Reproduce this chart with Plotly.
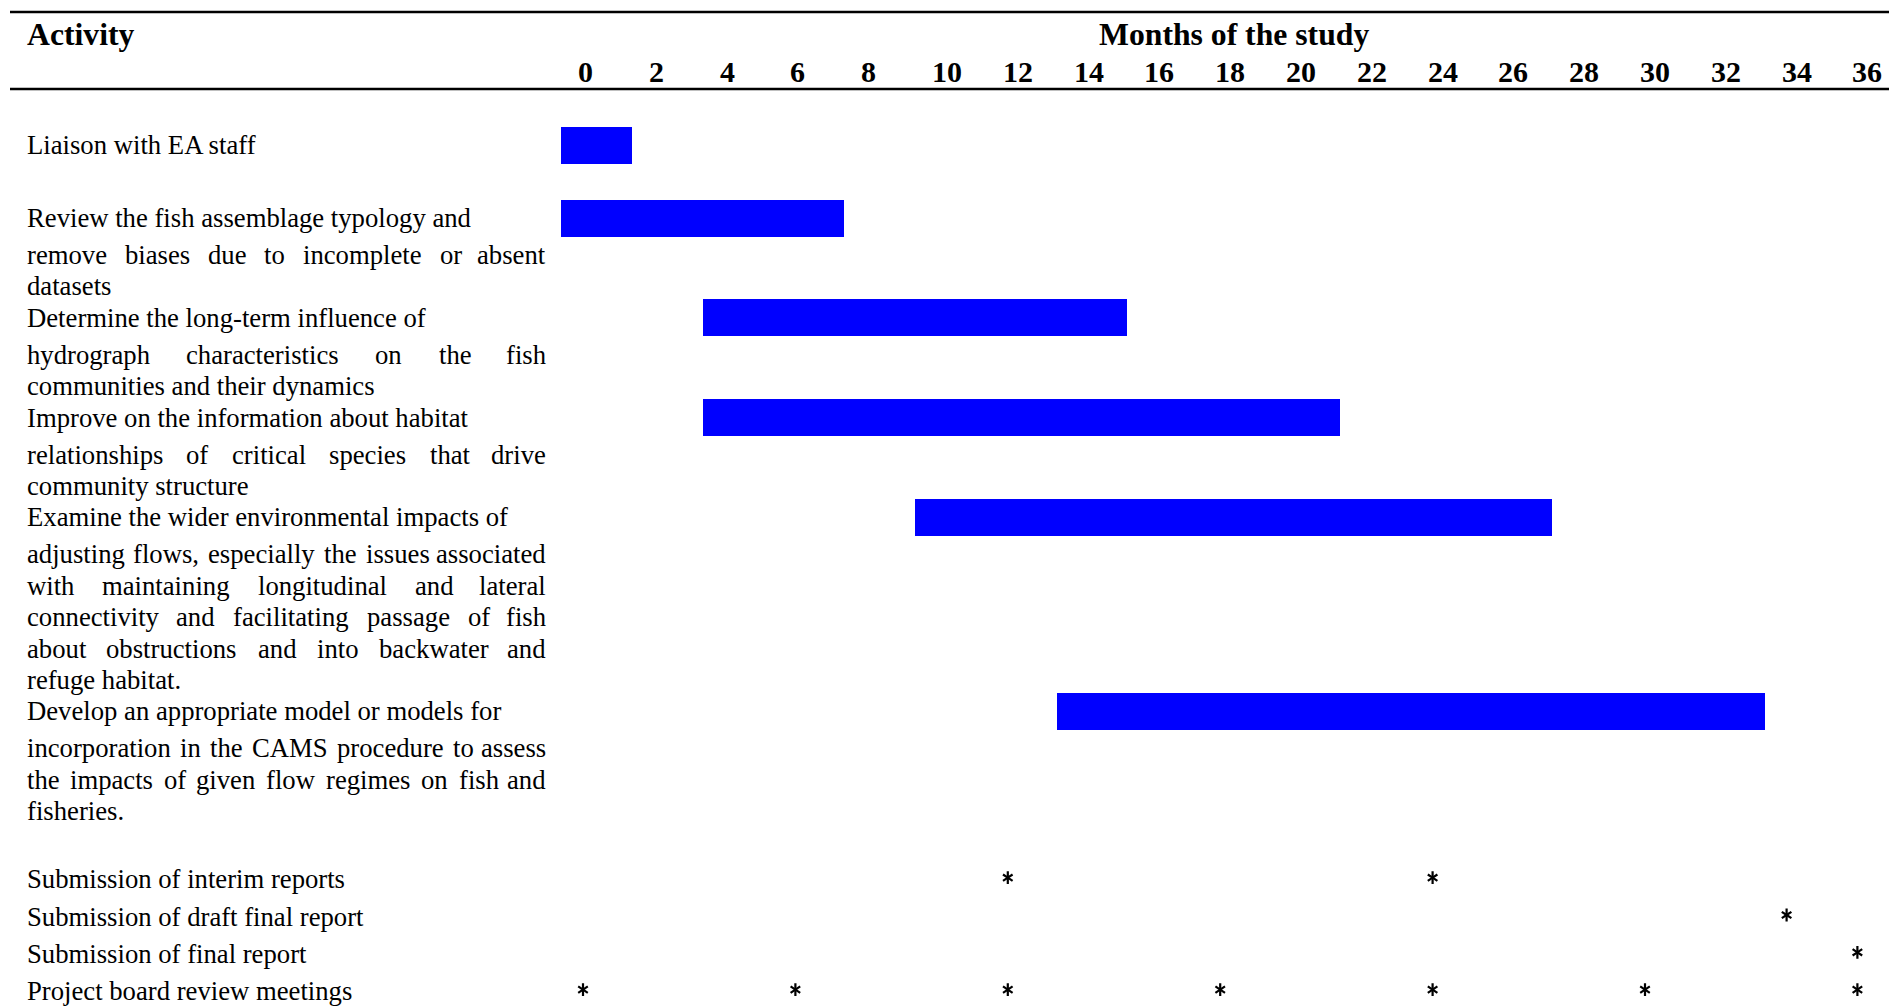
import plotly.graph_objects as go

# ---------------- data ----------------
ACTIVITY_LINES = [
    ["Liaison with EA staff"],
    ["Review the fish assemblage typology and",
     "remove biases due to incomplete or absent",
     "datasets"],
    ["Determine the long-term influence of",
     "hydrograph characteristics on the fish",
     "communities and their dynamics"],
    ["Improve on the information about habitat",
     "relationships of critical species that drive",
     "community structure"],
    ["Examine the wider environmental impacts of",
     "adjusting flows, especially the issues associated",
     "with maintaining longitudinal and lateral",
     "connectivity and facilitating passage of fish",
     "about obstructions and into backwater and",
     "refuge habitat."],
    ["Develop an appropriate model or models for",
     "incorporation in the CAMS procedure to assess",
     "the impacts of given flow regimes on fish and",
     "fisheries."],
]
START_MONTH = [0, 0, 4, 4, 10, 14]
END_MONTH = [2, 8, 16, 22, 28, 34]

MILESTONES = ["Submission of interim reports",
              "Submission of draft final report",
              "Submission of final report",
              "Project board review meetings"]
INTERIM_MONTHS = [12, 24]
DRAFT_MONTHS = [34]
FINAL_MONTHS = [36]
BOARD_MONTHS = [0, 6, 12, 18, 24, 30, 36]
MILESTONE_MONTHS = [INTERIM_MONTHS, DRAFT_MONTHS, FINAL_MONTHS, BOARD_MONTHS]

MONTH_TICKS = [0, 2, 4, 6, 8, 10, 12, 14, 16, 18, 20, 22, 24, 26, 28, 30, 32, 34, 36]
HEADER_LEFT = "Activity"
HEADER_RIGHT = "Months of the study"

# ---------------- layout / style ----------------
W, H = 1889, 1008
PX_PER_MONTH = 35.4
ZERO_PX = 583.0
BAR_LEAD = 22 / PX_PER_MONTH
LABEL_LEAD = 6 / PX_PER_MONTH
TEXT_LEFT = 25.5
TEXT_RIGHT = 547.0
FONT = "Liberation Serif, Times New Roman, serif"
BODY_SIZE = 26.7
HEAD_SIZE = 31.7
TICK_SIZE = 30
STAR_MARKER = 8
STAR_LINE = 2.2
STAR_DY = -1.5
BAR_H = 37
BLUE = "#0000FF"

FIRST_Y = 145
FIRST_GAP = 37
LINE_PITCH = 31.4
BLANK_AFTER_FIRST = 73
BLANK_BEFORE_MILESTONES = 68
MILESTONE_PITCH = 37.3
HEADER_Y = 34
TICK_Y = 71
RULE_TOP = 12
RULE_BOTTOM = 89
RULE_X0 = 10

TIMES_W = {' ': 250, '!': 333, ',': 250, '-': 333, '.': 250, '*': 500,
           'A': 722, 'B': 667, 'C': 667, 'D': 722, 'E': 611, 'F': 556, 'G': 722, 'H': 722,
           'I': 333, 'J': 389, 'K': 722, 'L': 611, 'M': 889, 'N': 722, 'O': 722, 'P': 556,
           'Q': 722, 'R': 667, 'S': 556, 'T': 611, 'U': 722, 'V': 722, 'W': 944, 'X': 722,
           'Y': 722, 'Z': 611,
           'a': 444, 'b': 500, 'c': 444, 'd': 500, 'e': 444, 'f': 333, 'g': 500, 'h': 500,
           'i': 278, 'j': 278, 'k': 500, 'l': 278, 'm': 778, 'n': 500, 'o': 500, 'p': 500,
           'q': 500, 'r': 333, 's': 389, 't': 278, 'u': 500, 'v': 500, 'w': 722, 'x': 500,
           'y': 500, 'z': 444}


def text_w(s, size):
    return sum(TIMES_W.get(c, 500) for c in s) * size / 1000.0


# compute line positions (pixels from top)
line_items = []  # (text, y, justified)
row_y = []
y = FIRST_Y
for i, lines in enumerate(ACTIVITY_LINES):
    row_y.append(y)
    ly = y
    for j, ln in enumerate(lines):
        if j == 1:
            ly += FIRST_GAP
        elif j > 1:
            ly += LINE_PITCH
        justified = (j >= 1 and j < len(lines) - 1)
        line_items.append((ln, ly, justified))
    if i == 0:
        y = ly + BLANK_AFTER_FIRST
    else:
        y = ly + LINE_PITCH
last_y = line_items[-1][1]
mile_y = [last_y + BLANK_BEFORE_MILESTONES + k * MILESTONE_PITCH for k in range(len(MILESTONES))]

fig = go.Figure()

# bars
fig.add_trace(go.Bar(
    orientation="h",
    y=row_y,
    x=[e - s for s, e in zip(START_MONTH, END_MONTH)],
    base=[s - BAR_LEAD for s in START_MONTH],
    width=BAR_H,
    marker=dict(color=BLUE, line=dict(width=0)),
    showlegend=False,
    hoverinfo="skip",
))

# milestone stars (six-armed asterisk built from two Y markers)
sx, sy = [], []
for months, yy in zip(MILESTONE_MONTHS, mile_y):
    for m in months:
        sx.append(m)
        sy.append(yy + STAR_DY)
for sym in ["y-up-open", "y-down-open"]:
    fig.add_trace(go.Scatter(
        x=sx, y=sy, mode="markers",
        marker=dict(symbol=sym, size=STAR_MARKER, color="black",
                    line=dict(color="black", width=STAR_LINE)),
        showlegend=False, hoverinfo="skip", cliponaxis=False,
    ))

annotations = []


def add_text(txt, xpx, ypx, anchor="left", size=BODY_SIZE, bold=False):
    annotations.append(dict(
        text=("<b>%s</b>" % txt) if bold else txt,
        x=xpx / W, xref="paper", y=ypx, yref="y",
        xanchor=anchor, yanchor="middle", showarrow=False, borderpad=0,
        font=dict(family=FONT, size=size, color="black"),
    ))


for txt, ly, justified in line_items:
    if justified:
        words = txt.split()
        ws = [text_w(w, BODY_SIZE) for w in words]
        gap = (TEXT_RIGHT - TEXT_LEFT - sum(ws)) / (len(words) - 1)
        x = TEXT_LEFT
        for k, (wd, ww) in enumerate(zip(words, ws)):
            if k == len(words) - 1:
                add_text(wd, TEXT_RIGHT, ly, anchor="right")
            else:
                add_text(wd, x, ly)
            x += ww + gap
    else:
        add_text(txt, TEXT_LEFT, ly)

for name, yy in zip(MILESTONES, mile_y):
    add_text(name, TEXT_LEFT, yy)

# header
add_text(HEADER_LEFT, TEXT_LEFT, HEADER_Y, size=HEAD_SIZE, bold=True)
add_text(HEADER_RIGHT, 1233.5, HEADER_Y, anchor="center", size=HEAD_SIZE, bold=True)
for m in MONTH_TICKS:
    annotations.append(dict(
        text="<b>%d</b>" % m, x=m - LABEL_LEAD, xref="x", y=TICK_Y, yref="y",
        xanchor="left", yanchor="middle", showarrow=False, borderpad=0,
        font=dict(family=FONT, size=TICK_SIZE, color="black"),
    ))

shapes = [
    dict(type="line", xref="paper", yref="y", x0=RULE_X0 / W, x1=1, y0=RULE_TOP, y1=RULE_TOP,
         line=dict(color="black", width=2.5)),
    dict(type="line", xref="paper", yref="y", x0=RULE_X0 / W, x1=1, y0=RULE_BOTTOM, y1=RULE_BOTTOM,
         line=dict(color="black", width=2.5)),
]

fig.update_layout(
    width=W, height=H,
    margin=dict(l=0, r=0, t=0, b=0),
    paper_bgcolor="white", plot_bgcolor="white",
    xaxis=dict(range=[-ZERO_PX / PX_PER_MONTH, (W - ZERO_PX) / PX_PER_MONTH],
               visible=False, fixedrange=True),
    yaxis=dict(range=[H, 0], visible=False, fixedrange=True),
    annotations=annotations,
    shapes=shapes,
    bargap=0,
)

fig.write_html(
    "out.html",
    config={"displayModeBar": False},
    post_script="document.body.style.margin='0px';document.body.style.overflow='hidden';",
)
